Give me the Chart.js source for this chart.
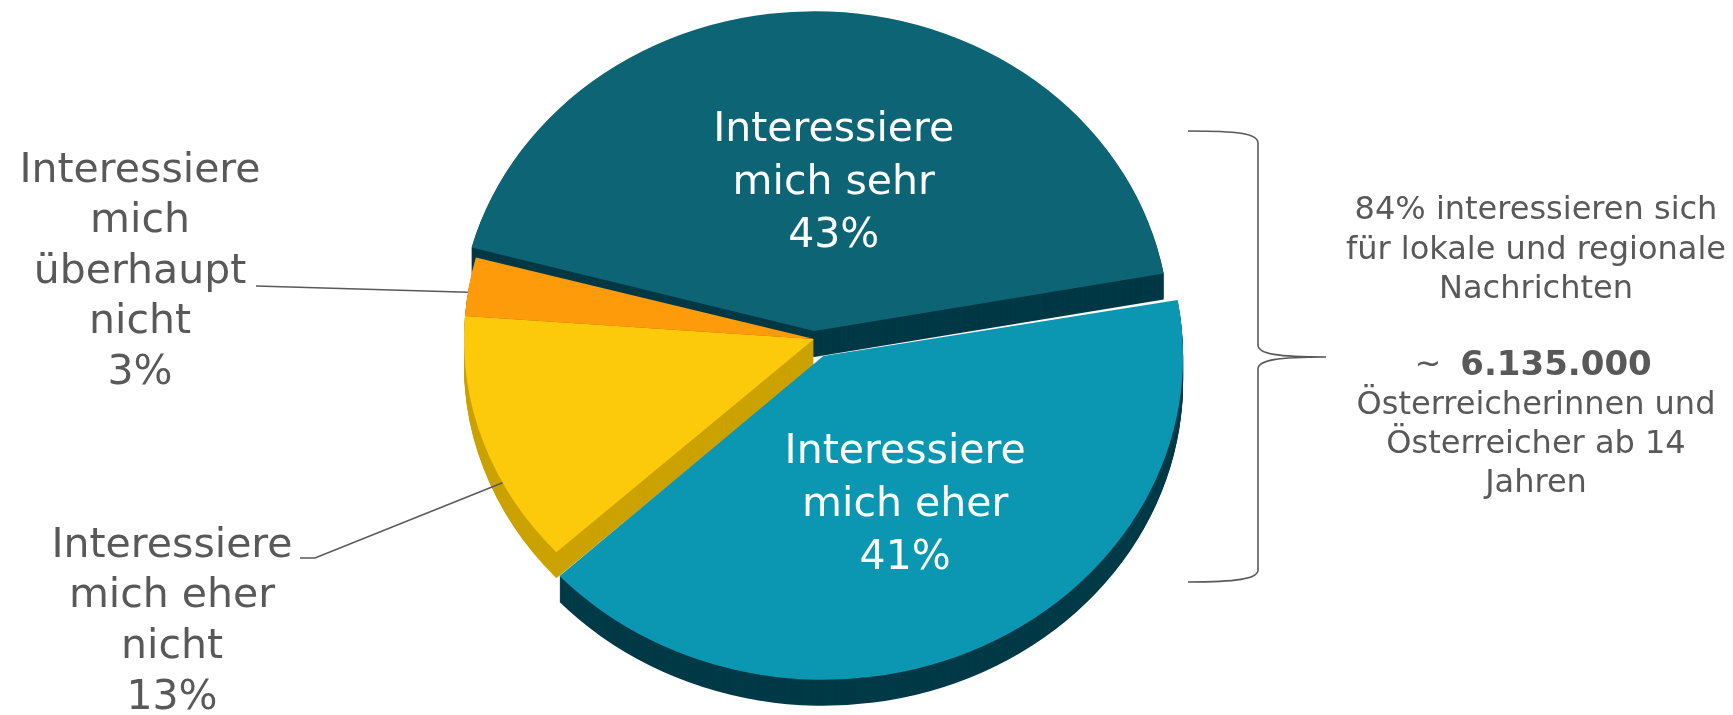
<!DOCTYPE html>
<html>
<head>
<meta charset="utf-8">
<script src="https://cdn.jsdelivr.net/npm/chart.js@4.4.0/dist/chart.umd.min.js"></script>
<style>
    html, body { margin: 0; padding: 0; background: #ffffff; }
    #contenedor { position: relative; width: 1733px; height: 715px; }
</style>
</head>
<body>
<div id="contenedor"><canvas id="torta" width="1733" height="715"></canvas></div>
<script>
// Datos del grafico
var categorias = ['Interessiere mich sehr', 'Interessiere mich eher', 'Interessiere mich eher nicht', 'Interessiere mich überhaupt nicht'];
var porcentajes = [43, 41, 13, 3];
var lineasEtiqueta = [
    ['Interessiere', 'mich sehr'],
    ['Interessiere', 'mich eher'],
    ['Interessiere', 'mich eher', 'nicht'],
    ['Interessiere', 'mich', 'überhaupt', 'nicht']
];
var notaTexto1 = ['84% interessieren sich', 'für lokale und regionale', 'Nachrichten'];
var notaCifra = '6.135.000';
var notaTexto2 = ['Österreicherinnen und', 'Österreicher ab 14', 'Jahren'];

// Estilo
var coloresSuperficie = ['#0D6474', '#0B97B2', '#FCCA0A', '#FD9B0B'];
var coloresLado = ['#003845', '#003A47', '#CBA200', '#A05E00'];
var separacion = [36, 84, 0, 0];
var CENTRO_X = 814;
var CENTRO_Y = 339;
var INCLINACION = 0.9;
var PROFUNDIDAD = 26;
var GRIS = '#595959';
var FUENTE = '"DejaVu Sans", Verdana, sans-serif';

// ajuste de las etiquetas dentro de la torta [dx, dy]
var ajusteDentro = { 0: [12, 10], 1: [4, 8] };
// etiquetas fuera de la torta (indice -> posicion del texto y linea guia)
var etiquetasFuera = {
    2: { x: 172, y: 546, paso: 50.8, fraccion: 0.33, codo: [[300, 558], [315, 558]] },
    3: { x: 140, y: 171, paso: 50.5, fraccion: 0.4, codo: [[256, 286]] }
};

document.addEventListener('DOMContentLoaded', f_principal);

function f_principal() {
    graficoTorta();
}

function inclinar(ctx, arco, bajar) {
    ctx.translate(CENTRO_X, CENTRO_Y + bajar);
    ctx.scale(1, INCLINACION);
    ctx.translate(-arco.x, -arco.y);
}

// punto de la torta ya inclinado
function puntoTorta(arco, radio, angulo) {
    var medio = (arco.startAngle + arco.endAngle) / 2;
    var sep = (arco.options.offset || 0) / 4;
    var dx = Math.cos(angulo) * radio + Math.cos(medio) * sep;
    var dy = Math.sin(angulo) * radio + Math.sin(medio) * sep;
    return { x: CENTRO_X + dx, y: CENTRO_Y + dy * INCLINACION };
}

var torta3d = {
    id: 'torta3d',
    beforeDatasetsDraw: function (chart) {
        var ctx = chart.ctx;
        var arcos = chart.getDatasetMeta(0).data;
        // lados (extrusion hacia abajo)
        for (var d = PROFUNDIDAD; d > 0; d--) {
            ctx.save();
            inclinar(ctx, arcos[0], d);
            arcos.forEach(function (arco, i) {
                var copia = Object.create(arco);
                copia.options = Object.assign({}, arco.options, { backgroundColor: coloresLado[i], borderWidth: 0 });
                arco.draw.call(copia, ctx);
            });
            ctx.restore();
        }
        ctx.save();
        inclinar(ctx, arcos[0], 0);
    },
    afterDatasetsDraw: function (chart) {
        chart.ctx.restore();
    },
    afterDraw: function (chart) {
        var ctx = chart.ctx;
        var arcos = chart.getDatasetMeta(0).data;
        ctx.save();
        ctx.textAlign = 'center';
        ctx.textBaseline = 'middle';

        arcos.forEach(function (arco, i) {
            var lineas = lineasEtiqueta[i].concat([porcentajes[i] + '%']);
            var fuera = etiquetasFuera[i];
            if (!fuera) {
                var medio = (arco.startAngle + arco.endAngle) / 2;
                var p = puntoTorta(arco, arco.outerRadius * 0.5, medio);
                var aj = ajusteDentro[i] || [0, 0];
                var paso = 53;
                var y0 = p.y - paso * (lineas.length - 1) / 2 + aj[1];
                ctx.fillStyle = '#FFFFFF';
                ctx.font = '41px ' + FUENTE;
                lineas.forEach(function (t, k) {
                    ctx.fillText(t, p.x + aj[0], y0 + k * paso);
                });
            } else {
                var ang = arco.startAngle + (arco.endAngle - arco.startAngle) * fuera.fraccion;
                var borde = puntoTorta(arco, arco.outerRadius, ang);
                ctx.strokeStyle = GRIS;
                ctx.lineWidth = 1.5;
                ctx.beginPath();
                ctx.moveTo(fuera.codo[0][0], fuera.codo[0][1]);
                for (var c = 1; c < fuera.codo.length; c++) {
                    ctx.lineTo(fuera.codo[c][0], fuera.codo[c][1]);
                }
                ctx.lineTo(borde.x, borde.y);
                ctx.stroke();
                ctx.fillStyle = GRIS;
                ctx.font = '41px ' + FUENTE;
                lineas.forEach(function (t, k) {
                    ctx.fillText(t, fuera.x, fuera.y + k * fuera.paso);
                });
            }
        });

        // llave a la derecha
        ctx.strokeStyle = GRIS;
        ctx.lineWidth = 1.6;
        ctx.beginPath();
        ctx.moveTo(1188, 131);
        ctx.bezierCurveTo(1236, 131, 1258, 133, 1258, 143);
        ctx.lineTo(1258, 345);
        ctx.bezierCurveTo(1258, 354, 1278, 357, 1326, 357);
        ctx.bezierCurveTo(1278, 357, 1258, 360, 1258, 369);
        ctx.lineTo(1258, 570);
        ctx.bezierCurveTo(1258, 579, 1236, 582, 1188, 582);
        ctx.stroke();

        // nota
        ctx.fillStyle = GRIS;
        ctx.font = '32px ' + FUENTE;
        notaTexto1.forEach(function (t, k) {
            ctx.fillText(t, 1536, 211 + k * 39.5);
        });
        ctx.fillText('~', 1428, 366);
        ctx.font = 'bold 34px ' + FUENTE;
        ctx.fillText(notaCifra, 1556, 366);
        ctx.font = '32px ' + FUENTE;
        notaTexto2.forEach(function (t, k) {
            ctx.fillText(t, 1536, 406 + k * 39);
        });
        ctx.restore();
    }
};

function graficoTorta() {
    var data = {
        labels: categorias,
        datasets: [{
            data: porcentajes,
            backgroundColor: coloresSuperficie,
            borderWidth: 0,
            offset: separacion,
            hoverOffset: 0,
            radius: 350,
            clip: false
        }]
    };

    var options = {
        responsive: false,
        animation: false,
        rotation: 285, // la porcion grande empieza a la izquierda
        events: [],
        plugins: {
            legend: { display: false },
            tooltip: { enabled: false }
        }
    };

    var ctx = document.getElementById('torta').getContext('2d');
    var torta = new Chart(ctx, {
        type: 'pie',
        data: data,
        options: options,
        plugins: [torta3d]
    });
}
</script>
</body>
</html>
